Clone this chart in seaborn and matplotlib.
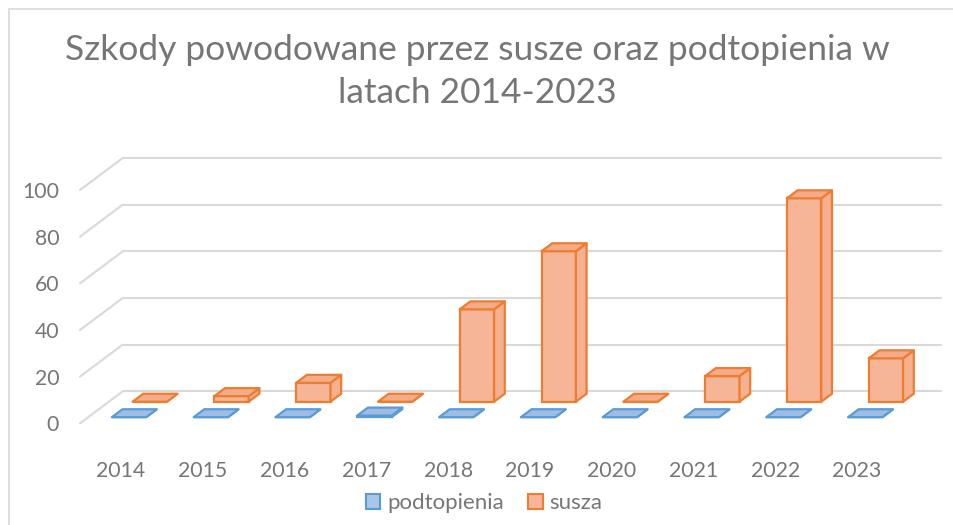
import matplotlib
matplotlib.use("Agg")
import matplotlib.pyplot as plt
import seaborn as sns
from matplotlib.patches import Polygon, Patch
from matplotlib.transforms import Affine2D
from matplotlib.lines import Line2D

# data
years = ['2014', '2015', '2016', '2017', '2018', '2019', '2020', '2021', '2022', '2023']
podtopienia = [0, 0, 0, 0.7, 0, 0, 0, 0, 0, 0]
susza = [0, 2.4, 8.1, 0, 39.6, 64.5, 0, 11.0, 87.2, 18.6]
yticks = [0, 20, 40, 60, 80, 100]

title = "Szkody powodowane przez susze oraz podtopienia w\nlatach 2014-2023"
text_col = '#767676'
grid_col = '#d9d9d9'

sns.set_style('white')
plt.rcParams['font.family'] = ['Lato', 'DejaVu Sans']

W, H = 954, 525
fig = plt.figure(figsize=(W / 100, H / 100), dpi=100)
ax = fig.add_axes([80 / W, (H - 423.3) / H, 818 / W, 233.3 / H])

# oblique "3D" depth vector in data units (whole floor depth)
DX, DY = 0.522, 13.7
BAR_DEPTH = 0.25
WIDTH = 0.42


def shift(f):
    return Affine2D().translate(f * DX, f * DY) + ax.transData


def draw_series(vals, front, top_c, side_c, edge, f):
    n0 = len(ax.patches)
    sns.barplot(x=years, y=vals, color=front, saturation=1, width=WIDTH,
                edgecolor=edge, linewidth=1.6, ax=ax, zorder=3)
    bars = ax.patches[n0:]
    tr = shift(f)
    dx, dy = BAR_DEPTH * DX, BAR_DEPTH * DY
    for p in bars:
        p.set_transform(tr)
        p.set_clip_on(False)
        x0, x1, h = p.get_x(), p.get_x() + p.get_width(), p.get_height()
        top = Polygon([(x0, h), (x1, h), (x1 + dx, h + dy), (x0 + dx, h + dy)],
                      closed=True, facecolor=top_c, edgecolor=edge, lw=1.6,
                      transform=tr, zorder=3, clip_on=False, joinstyle='round')
        side = Polygon([(x1, 0), (x1, h), (x1 + dx, h + dy), (x1 + dx, dy)],
                       closed=True, facecolor=side_c, edgecolor=edge, lw=1.6,
                       transform=tr, zorder=3, clip_on=False, joinstyle='round')
        ax.add_patch(side)
        ax.add_patch(top)


# back wall and side wall gridlines
for y in yticks:
    ax.add_line(Line2D([-0.5 + DX, 9.5 + DX], [y + DY, y + DY], color=grid_col,
                       lw=1.5, zorder=1, clip_on=False))
    ax.add_line(Line2D([-0.5, -0.5 + DX], [y, y + DY], color=grid_col,
                       lw=1.5, zorder=1, clip_on=False))

# back row first, then front row
draw_series(susza, '#f5b596', '#f4ab88', '#f5b08f', '#ed7d31', 0.675)
draw_series(podtopienia, '#a9c5e8', '#9fbde3', '#a3c0e5', '#5b9bd5', 0.19)

ax.set_xlim(-0.5, 9.5)
ax.set_ylim(0, 100)
ax.set_yticks(yticks)
ax.set_xlabel('')
ax.set_ylabel('')
for s in ax.spines.values():
    s.set_visible(False)
ax.grid(False)
ax.patch.set_alpha(0)
ax.tick_params(axis='y', length=0, pad=15, labelsize=15.3, labelcolor=text_col)
ax.tick_params(axis='x', length=0, pad=27, labelsize=15.3, labelcolor=text_col)

fig.text(0.5, 1 - 71.5 / H, title, ha='center', va='center', fontsize=25.5,
         color=text_col, linespacing=1.4)

handles = [Patch(facecolor='#a9c5e8', edgecolor='#5b9bd5', lw=1.5),
           Patch(facecolor='#f5b596', edgecolor='#ed7d31', lw=1.5)]
fig.legend(handles, ['podtopienia', 'susza'], loc='center', ncol=2,
           bbox_to_anchor=(484 / W, 1 - 503 / H), frameon=False, fontsize=16,
           labelcolor=text_col, handlelength=0.65, handleheight=0.65,
           handletextpad=0.3, columnspacing=1.1)

# chart area border (only top and left visible in the crop)
fig.add_artist(Line2D([9 / W, 1], [1 - 9 / H, 1 - 9 / H], color=grid_col, lw=1.2,
                      transform=fig.transFigure))
fig.add_artist(Line2D([9 / W, 9 / W], [0, 1 - 9 / H], color=grid_col, lw=1.2,
                      transform=fig.transFigure))

fig.savefig('out.png', dpi=100)
